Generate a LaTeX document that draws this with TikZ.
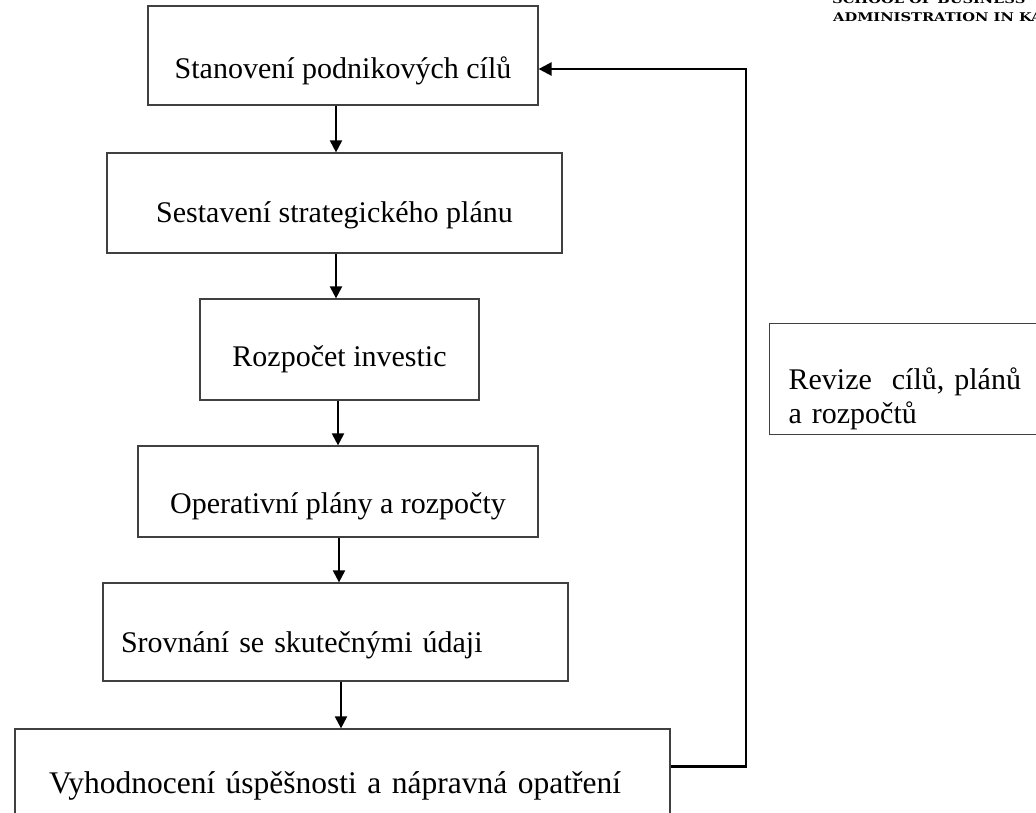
\documentclass[tikz,border=0pt]{standalone}
\usepackage{fontspec}
\setmainfont{Liberation Serif}
\newfontfamily\hdrfont{DejaVu Serif}
\usetikzlibrary{arrows.meta,calc}
\begin{document}
\begin{tikzpicture}[x=1pt,y=-1pt,
  box/.style={draw=black!75, line width=1.2pt, inner xsep=0pt, inner ysep=0pt,
    text depth=0pt, font=\fontsize{30}{34}\selectfont, align=center},
  arr/.style={line width=2pt, -{Triangle[length=12pt,width=12pt]}},
  fb/.style={line width=2.4pt, -{Triangle[length=13pt,width=13pt]}},
  hdr/.style={anchor=base west, inner sep=0pt, font=\hdrfont\bfseries\fontsize{12}{12}\selectfont}]
\useasboundingbox (0,0) rectangle (1036,812);
\fill[white] (0,0) rectangle (1036,812);
\clip (0,0) rectangle (1036,812);

% header
\node[hdr] (h1) at (832,3) {\scalebox{1.22}[1]{SCHOOL OF BUSINESS}};
\node[hdr] (h2) at (833,21) {\scalebox{1.22}[1]{ADMINISTRATION IN KA}};

% boxes
\node[box, minimum width=390pt, minimum height=99pt, text height=45pt] (b1) at (343,55.5) {Stanovení podnikových cílů};
\node[box, minimum width=455pt, minimum height=100pt, text height=38pt] (b2) at (334.5,203) {Sestavení strategického plánu};
\node[box, minimum width=279pt, minimum height=101pt, text height=33pt] (b3) at (339.5,349.5) {Rozpočet investic};
\node[box, minimum width=400pt, minimum height=91pt, text height=43pt] (b4) at (338,491.5) {Operativní plány a rozpočty};
\node[box, minimum width=465pt, minimum height=98pt, text height=40pt, text width=429pt, inner xsep=18pt, align=left] (b5) at (335.5,632) {Srovnání se skutečnými údaji};
\node[box, minimum width=655pt, minimum height=106pt, text height=22pt, text width=587pt, inner xsep=34pt, align=left, font=\fontsize{31.5}{34}\selectfont] (b6) at (342.5,782) {Vyhodnocení úspěšnosti a nápravná opatření};
\node[box, anchor=north west, minimum width=290pt, minimum height=111pt, text height=21pt, text width=252pt, inner xsep=19pt, align=left] (rv) at (769,323) {Revize\ \ cílů, plánů\\a rozpočtů};

% arrow columns
\coordinate (ax1) at (336,0);
\coordinate (ax2) at (336,0);
\coordinate (ax3) at (338,0);
\coordinate (ax4) at (339,0);
\coordinate (ax5) at (341,0);
\draw[arr] (b1.south -| ax1) -- (b2.north -| ax1);
\draw[arr] (b2.south -| ax2) -- (b3.north -| ax2);
\draw[arr] (b3.south -| ax3) -- (b4.north -| ax3);
\draw[arr] (b4.south -| ax4) -- (b5.north -| ax4);
\draw[arr] (b5.south -| ax5) -- (b6.north -| ax5);

% feedback loop
\coordinate (fbc) at (746,69);
\draw[fb] ($(b6.north east)+(0,38)$) -| (fbc) -- (b1.east |- fbc);
\end{tikzpicture}
\end{document}
